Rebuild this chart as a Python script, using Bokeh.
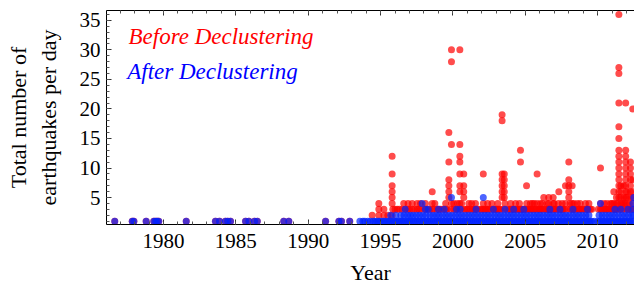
from bokeh.plotting import figure
from bokeh.models import Range1d, LinearAxis, Label, FixedTicker, ColumnDataSource
from bokeh.embed import file_html
from bokeh.resources import INLINE

# ---------------- data ----------------
x_major_ticks = [1980, 1985, 1990, 1995, 2000, 2005, 2010]
y_major_ticks = [5, 10, 15, 20, 25, 30, 35]

# early days with a single event (same before and after declustering)
early_years = [1976.63, 1977.84, 1977.95, 1978.80, 1979.33, 1979.45, 1979.56, 1979.67,
               1981.57, 1983.59, 1983.87, 1984.28, 1984.44, 1984.63, 1985.67, 1985.90,
               1986.29, 1986.48, 1988.31, 1988.66, 1991.20, 1992.12, 1992.30, 1992.87]

# after declustering: days with 1, 2, 3 events
blue1_years = [1993.57, 1993.78, 1993.91, 1994.12, 1994.30, 1994.49, 1994.61, 1994.77, 1994.90,
               1995.04, 1995.19, 1995.31, 1995.46, 1995.60, 1995.73, 1995.88, 1996.02, 1996.15, 1996.29,
               1996.44, 1996.57, 1996.71, 1996.86, 1996.99, 1997.13, 1997.28, 1997.40, 1997.55, 1997.69,
               1997.83, 1997.96, 1998.10, 1998.25, 1998.38, 1998.52, 1998.67, 1998.80, 1998.94, 1999.07,
               1999.21, 1999.36, 1999.49, 1999.63, 1999.78, 1999.90, 2000.04, 2000.18, 2000.33, 2000.46,
               2000.60, 2000.74, 2000.87, 2001.01, 2001.16, 2001.30, 2001.43, 2001.57, 2001.71, 2001.85,
               2001.98, 2002.12, 2002.27, 2002.40, 2002.54, 2002.69, 2002.82, 2002.95, 2003.09, 2003.24,
               2003.37, 2003.51, 2003.66, 2003.79, 2003.93, 2004.06, 2004.20, 2004.35, 2004.48, 2004.62,
               2004.77, 2004.90, 2005.03, 2005.18, 2005.32, 2005.45, 2005.59, 2005.74, 2005.87, 2006.01,
               2006.14, 2006.29, 2006.43, 2006.56, 2006.71, 2006.84, 2006.98, 2007.12, 2007.26, 2007.39,
               2007.53, 2007.68, 2007.81, 2007.95, 2008.08, 2008.22, 2008.37, 2008.50, 2008.64, 2008.79,
               2008.92, 2009.06, 2009.20, 2009.33, 2009.48, 2009.60, 2009.78, 2010.02, 2010.15, 2010.30,
               2010.43, 2010.57, 2010.72, 2010.85, 2010.99, 2011.12, 2011.26, 2011.41, 2011.54, 2011.68,
               2011.82, 2011.95, 2012.09, 2012.23, 2012.36, 2012.50]
blue2_years = [1995.70, 1996.05, 1996.40, 1996.62, 1996.85, 1997.05, 1997.25, 1997.48, 1997.70,
               1997.93, 1998.15, 1998.40, 1998.62, 1998.85, 1999.05, 1999.28, 1999.50, 1999.72,
               1999.95, 2000.18, 2000.40, 2000.62, 2000.85, 2001.08, 2001.30, 2001.52, 2001.75,
               2001.97, 2002.20, 2002.42, 2002.65, 2002.88, 2003.10, 2003.32, 2003.55, 2003.78,
               2004.00, 2004.22, 2004.45, 2004.68, 2004.90, 2005.12, 2005.35, 2005.58, 2005.80,
               2006.02, 2006.25, 2006.48, 2006.70, 2006.92, 2007.15, 2007.38, 2007.60, 2007.82,
               2008.05, 2008.28, 2008.50, 2008.72, 2008.95, 2009.18, 2009.40, 2010.10, 2010.32,
               2010.55, 2010.78, 2011.00, 2011.22, 2011.45, 2011.68, 2011.90, 2012.12, 2012.35, 2012.50]
blue3_years = [1996.70, 1998.10, 1998.30, 1999.00, 1999.40, 2000.25, 2000.50, 2001.60, 2002.80,
               2003.60, 2004.20, 2004.90, 2006.70, 2007.40, 2008.30, 2009.30, 2011.20, 2011.60,
               2012.10, 2012.45]
blue_hi_years = [1997.87, 1999.90, 2002.10, 2010.20, 2012.45, 2012.50]
blue_hi_counts = [4, 5, 5, 4, 4, 5]

# before declustering: extra days with 2, 3, 4 events
red2_years = [1994.42, 1994.88, 1995.23, 1995.50, 1995.80]
red3_years = [1994.88, 1995.23, 1995.85, 1996.00, 1996.15, 1996.30, 1996.50, 1996.72, 1996.90,
              1997.00, 1997.19, 1997.35, 1997.53, 1997.65, 1997.80, 1998.05, 1998.20, 1998.40,
              1998.57, 1998.70, 1998.90, 1999.03, 1999.15, 1999.30, 1999.50, 1999.60, 1999.85,
              2000.06, 2000.20, 2000.35, 2000.60, 2000.80, 2000.95, 2001.05, 2001.20, 2001.35,
              2001.45, 2001.56, 2001.70, 2001.90, 2002.00, 2002.10, 2002.20, 2002.30, 2002.40,
              2002.50, 2002.65, 2002.82, 2002.95, 2003.00, 2003.10, 2003.20, 2003.30, 2003.50,
              2003.75, 2003.90, 2004.00, 2004.10, 2004.20, 2004.33, 2004.40, 2004.50, 2004.60,
              2004.67, 2004.75, 2004.85, 2005.00, 2005.09, 2005.20, 2005.30, 2005.40, 2005.50,
              2005.60, 2005.70, 2005.82, 2005.95, 2006.00, 2006.10, 2006.20, 2006.35, 2006.45,
              2006.55, 2006.62, 2006.70, 2006.80, 2006.93, 2007.00, 2007.10, 2007.20, 2007.32,
              2007.45, 2007.55, 2007.60, 2007.70, 2007.90, 2008.10, 2008.24, 2008.35, 2008.45,
              2008.60, 2008.70, 2008.80, 2008.90, 2009.00, 2009.16, 2009.25, 2009.35, 2009.50,
              2009.60, 2010.05, 2010.20, 2010.30, 2010.45, 2010.55, 2010.65, 2010.75, 2010.89,
              2011.00, 2011.12, 2011.20, 2011.30, 2011.40, 2011.55, 2011.70, 2011.85, 2012.04,
              2012.15, 2012.27, 2012.35, 2012.43]
red4_years = [1994.88, 1995.80, 1996.60, 1996.90, 1997.19, 1997.53, 1997.76, 1998.10, 1998.57,
              1998.75, 1999.50, 1999.90, 2000.06, 2000.30, 2000.48, 2000.60, 2001.10, 2001.30,
              2001.56, 2002.10, 2002.40, 2002.70, 2003.10, 2003.60, 2004.00, 2004.33, 2004.60,
              2005.10, 2005.35, 2005.50, 2005.62, 2005.82, 2006.05, 2006.20, 2006.50, 2006.62,
              2006.93, 2007.00, 2007.30, 2007.55, 2007.78, 2008.10, 2008.24, 2008.36, 2008.60,
              2008.80, 2009.16, 2009.40, 2010.20, 2010.45, 2010.65, 2010.89, 2011.00, 2011.12,
              2011.30, 2011.40, 2011.60, 2011.70, 2011.80, 2011.90, 2012.04, 2012.20, 2012.43]
# before declustering: taller columns (day -> counts above 4)
red_col_years = [1995.80, 1998.57, 1999.72, 1999.90, 2000.48, 2000.75, 2002.10, 2003.40,
                 2003.55, 2004.67, 2005.09, 2005.82, 2006.28, 2006.62, 2006.93, 2007.32,
                 2007.78, 2008.01, 2008.24, 2010.20, 2011.12, 2011.30, 2011.47, 2011.60,
                 2011.80, 2011.94, 2012.04, 2012.27, 2012.43]
red_col_counts = [[12, 9, 7, 6, 5], [6], [16, 11, 8, 7, 6, 5], [30, 28, 14], [30, 14, 12, 11, 9, 7, 6],
                  [9, 7, 6, 5], [9], [19, 18, 9, 8, 7, 6, 5], [9, 8, 7, 6, 5], [13, 11], [7], [9],
                  [5], [5], [5], [6], [7], [11, 8, 7, 6, 5], [7], [10], [6], [5],
                  [36, 27, 26, 21, 17, 15, 13, 12, 11, 10, 9, 8, 7, 6, 5], [7, 6, 5], [7, 5],
                  [21, 13, 12, 11, 10, 9, 8, 7, 6, 5], [6, 5], [11, 10, 9, 8, 7, 6, 5], [20, 8, 6, 5]]

# ---------------- assemble ----------------
red_x, red_y = [], []
for yrs, c in ((early_years, 1), (red2_years, 2), (red3_years, 3), (red4_years, 4)):
    red_x += list(yrs)
    red_y += [c] * len(yrs)
for yr, cs in zip(red_col_years, red_col_counts):
    red_x += [yr] * len(cs)
    red_y += list(cs)

blue_x, blue_y = [], []
for yrs, c in ((early_years, 1), (blue1_years, 1), (blue2_years, 2), (blue3_years, 3)):
    blue_x += list(yrs)
    blue_y += [c] * len(yrs)
blue_x += blue_hi_years
blue_y += blue_hi_counts

SERIF = "Liberation Serif"

p = figure(width=634, height=287, output_backend="svg", toolbar_location=None,
           x_range=Range1d(1976.06, 2012.55), y_range=Range1d(0.44, 36.66),
           min_border_left=106, min_border_right=0, min_border_top=10, min_border_bottom=62,
           x_axis_label="Year", y_axis_label="Total number of\nearthquakes per day")
p.outline_line_color = None
p.grid.visible = False

p.scatter(x="x", y="y", source=ColumnDataSource(dict(x=red_x, y=red_y)),
          size=7, fill_color="#ff0000", fill_alpha=0.7, line_color=None)
p.scatter(x="x", y="y", source=ColumnDataSource(dict(x=blue_x, y=blue_y)),
          size=7, fill_color="#0022ff", fill_alpha=0.7, line_color=None)

x_ticker = FixedTicker(ticks=x_major_ticks, minor_ticks=list(range(1976, 2013)))
y_ticker = FixedTicker(ticks=y_major_ticks, minor_ticks=list(range(1, 37)))
bottom = p.xaxis[0]
left = p.yaxis[0]
bottom.ticker = x_ticker
left.ticker = y_ticker

top = LinearAxis(ticker=x_ticker)
p.add_layout(top, "above")

for ax in (bottom, left, top):
    ax.axis_line_color = "black"
    ax.axis_line_width = 1
    ax.major_tick_in = 5
    ax.major_tick_out = 0
    ax.minor_tick_in = 3
    ax.minor_tick_out = 0
    ax.major_tick_line_color = "#333333"
    ax.minor_tick_line_color = "#555555"
    ax.major_label_text_font = SERIF
    ax.major_label_text_color = "black"
    ax.axis_label_text_font = SERIF
    ax.axis_label_text_font_style = "normal"
    ax.axis_label_text_color = "black"

for ax in (bottom, left):
    ax.major_label_text_font_size = "21px"
    ax.axis_label_text_font_size = "22px"
bottom.major_label_standoff = 9
bottom.axis_label_standoff = 9
left.major_label_standoff = 6
left.axis_label_standoff = 16

top.major_label_text_font_size = "0px"
top.major_label_text_alpha = 0
top.major_label_standoff = 0

p.add_layout(Label(x=1977.58, y=32.2, text="Before Declustering", text_color="#ff0000",
                   text_font=SERIF, text_font_style="italic", text_font_size="23px",
                   text_baseline="alphabetic"))
p.add_layout(Label(x=1977.49, y=26.35, text="After Declustering", text_color="#0000ff",
                   text_font=SERIF, text_font_style="italic", text_font_size="23px",
                   text_baseline="alphabetic"))

open("out.html", "w").write(file_html(p, INLINE))
